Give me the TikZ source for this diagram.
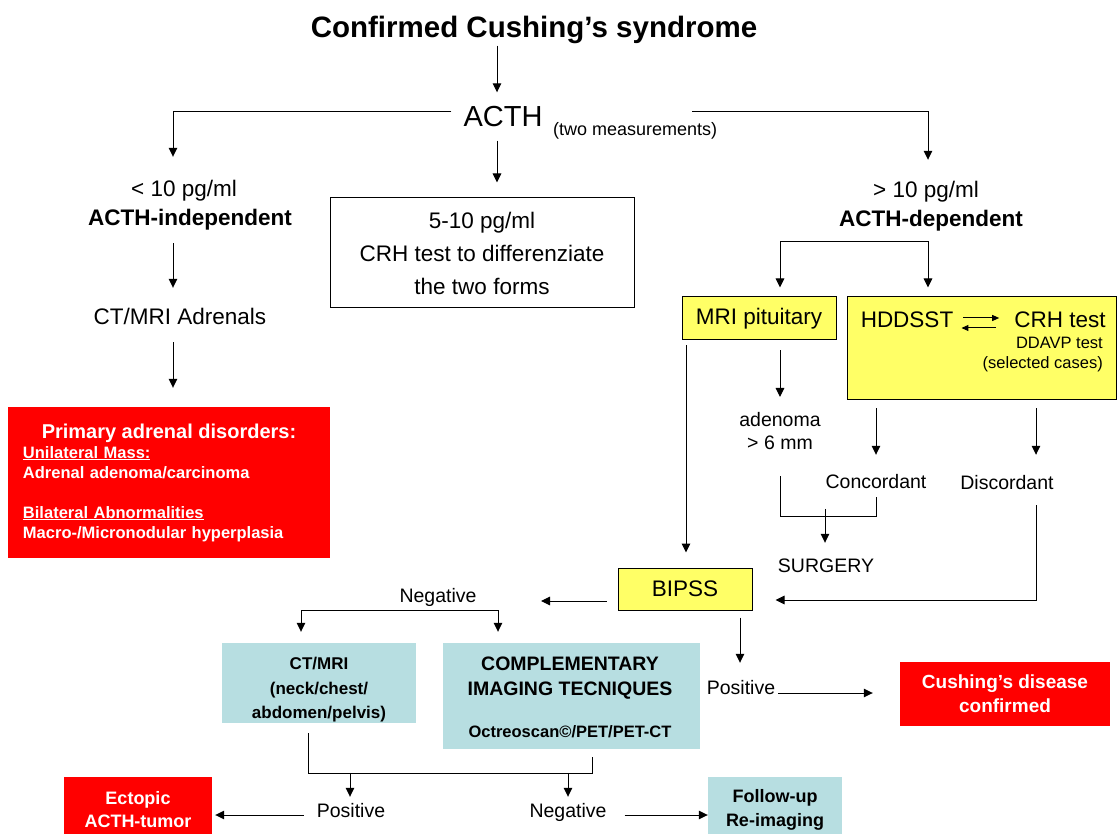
\documentclass[tikz,border=0pt]{standalone}
\usepackage{fontspec}
\setmainfont{Liberation Sans}
\usepackage{tikz}
\usetikzlibrary{arrows.meta}

\definecolor{alertred}{RGB}{255,0,0}
\definecolor{testyellow}{RGB}{255,255,102}
\definecolor{imgblue}{RGB}{183,222,225}

\tikzset{
  arr/.style={line width=1pt,-{Triangle[length=9pt,width=8.5pt]}},
  smallarr/.style={line width=1pt,-{Triangle[length=7pt,width=6pt]}},
  ln/.style={line width=1pt},
  tbig/.style={inner sep=0pt,font=\fontsize{22.5}{33}\selectfont,text height=16pt,text depth=0pt},
  tmid/.style={inner sep=0pt,font=\fontsize{19.5}{23}\selectfont,text height=14pt,text depth=0pt},
  tsmall/.style={inner sep=0pt,font=\fontsize{16.5}{20}\selectfont,text height=12pt,text depth=0pt},
  yellowbox/.style={draw,line width=1pt,fill=testyellow,inner sep=0pt},
  redbox/.style={fill=alertred,text=white,inner sep=0pt,align=center,
    font=\bfseries\fontsize{19}{24}\selectfont},
  bluebox/.style={fill=imgblue,inner sep=0pt,align=center,
    font=\bfseries\fontsize{17}{23}\selectfont},
}

\begin{document}
\begin{tikzpicture}[x=1pt,y=-1pt]
  \fill[white] (0,0) rectangle (1120,834);
  \useasboundingbox (0,0) rectangle (1120,834);

  % top
  \node[inner sep=0pt,font=\bfseries\fontsize{29.5}{34}\selectfont,text height=21pt,text depth=0pt] (title) at (534,27) {Confirmed Cushing’s syndrome};
  \node[inner sep=0pt,font=\fontsize{29}{34}\selectfont,text height=21pt,text depth=0pt] (acth) at (503,116) {ACTH};
  \node[inner sep=0pt,font=\fontsize{18}{22}\selectfont,text height=13pt,text depth=0pt,anchor=west] (meas) at (553,129) {(two measurements)};
  \draw[arr] ([shift={(-37,8)}]title.south) -- ([shift={(-6,-13)}]acth.north);

  % three ACTH levels
  \node[tbig] (lowval) at (184,189) {< 10 pg/ml};
  \node[tbig,font=\bfseries\fontsize{22.5}{33}\selectfont] (lowind) at (190,218) {ACTH-independent};
  \node[draw,line width=1pt,inner sep=0pt,align=center,minimum width=304pt,minimum height=110pt,
    font=\fontsize{22.5}{33}\selectfont] (crhbox) at (482,253) {5-10 pg/ml\\CRH test to differenziate\\the two forms};
  \node[tbig] (depval) at (926,190) {> 10 pg/ml};
  \node[tbig,font=\bfseries\fontsize{22.5}{33}\selectfont] (depind) at (931,219) {ACTH-dependent};
  \draw[arr] ([shift={(-12,-4)}]acth.west) -| ([shift={(-11,-24)}]lowval.north);
  \draw[arr] ([shift={(-25,-10.5)}]meas.north east) -| ([shift={(2,-22)}]depval.north);
  \draw[arr] ([shift={(-6,14)}]acth.south) -- ([shift={(15,-15)}]crhbox.north);

  % ACTH-independent side
  \node[tbig] (adr) at (180,317) {CT/MRI Adrenals};
  \node[redbox,align=left,minimum width=322pt,minimum height=151pt,text width=292pt,
    font=\bfseries\fontsize{16.5}{20}\selectfont] (prim) at (169,482.5)
    {\hfill{\fontsize{20}{24}\selectfont Primary adrenal disorders:}\hfill\null\\
     \underline{Unilateral Mass:}\\
     Adrenal adenoma/carcinoma\\[20pt]
     \underline{Bilateral Abnormalities}\\
     Macro-/Micronodular hyperplasia};
  \draw[arr] ([shift={(-17,17)}]lowind.south) -- ([shift={(-7,-21)}]adr.north);
  \draw[arr] ([shift={(-7,17)}]adr.south) -- ([shift={(4,-19)}]prim.north);

  % ACTH-dependent side
  \node[yellowbox,minimum width=154pt,minimum height=43pt,font=\fontsize{22.5}{33}\selectfont] (mripit) at (759,318.5) {MRI pituitary};
  \node[yellowbox,minimum width=269pt,minimum height=103pt] (hddbox) at (981.5,348.5) {};
  \node[tbig] (hdd) at (907,320) {HDDSST};
  \node[tbig] (crht) at (1060,320) {CRH test};
  \node[tsmall,anchor=east] (ddavp) at (1103,343) {DDAVP test};
  \node[tsmall,anchor=east] (sel) at (1103,363) {(selected cases)};
  \draw[smallarr] ([shift={(10,-2)}]hdd.east) -- ([shift={(-15,-2)}]crht.west);
  \draw[smallarr] ([shift={(-18,8)}]crht.west) -- ([shift={(8,8)}]hdd.east);
  \draw[arr] ([shift={(-53.5,-55)}]hddbox.north) -- ([shift={(-53.5,-9)}]hddbox.north);
  \draw[arr] ([shift={(-53.5,-55)}]hddbox.north) -| ([shift={(21,-9)}]mripit.north);

  \node[inner sep=0pt,align=center,font=\fontsize{19.5}{23}\selectfont] (aden) at (780,431) {adenoma\\> 6 mm};
  \node[tmid] (conc) at (876,481) {Concordant};
  \node[tmid] (disc) at (1007,482) {Discordant};
  \node[tmid] (surg) at (826,565) {SURGERY};
  \draw[arr] ([shift={(21,10)}]mripit.south) -- ([shift={(0,-34)}]aden.center);
  \draw[arr] ([shift={(-105.5,8)}]hddbox.south) -- ([shift={(0,-19)}]conc.north);
  \draw[arr] ([shift={(54.5,8)}]hddbox.south) -- ([shift={(29,-20)}]disc.north);
  \draw[ln] ([shift={(0,45)}]aden.center) |- ([shift={(0,28)}]conc.south) -- ([shift={(0,9)}]conc.south);
  \draw[arr] ([shift={(-1,-49)}]surg.north) -- ([shift={(-1,-15)}]surg.north);

  % BIPSS
  \node[yellowbox,minimum width=134pt,minimum height=42pt,font=\fontsize{22.5}{33}\selectfont] (bipss) at (685,589) {BIPSS};
  \draw[arr] ([shift={(-73,5)}]mripit.south) -- ([shift={(1,-15)}]bipss.north);
  \draw[arr] ([shift={(29,16)}]disc.south) |- ([shift={(23,11)}]bipss.east);

  \node[tmid] (neg) at (438,595) {Negative};
  \node[tmid] (pos) at (741,687) {Positive};
  \node[redbox,minimum width=210pt,minimum height=64pt] (cushd) at (1005,694) {Cushing’s disease\\confirmed};
  \draw[arr] ([shift={(-11,12)}]bipss.west) -- ([shift={(103,6)}]neg.center);
  \draw[arr] ([shift={(55,7)}]bipss.south) -- ([shift={(-1,-17)}]pos.north);
  \draw[arr] ([shift={(3,6)}]pos.east) -- ([shift={(-27,-1)}]cushd.west);

  % imaging
  \node[fill=imgblue,minimum width=194pt,minimum height=80pt] (ctbox) at (319,683) {};
  \node[bluebox,font=\bfseries\fontsize{17}{24.5}\selectfont] (cttext) at (319,690) {CT/MRI\\(neck/chest/\\abdomen/pelvis)};
  \node[fill=imgblue,minimum width=257pt,minimum height=106pt] (compbox) at (571.5,696) {};
  \node[bluebox,font=\bfseries\fontsize{19.5}{25}\selectfont] (comptext) at (570,697)
    {COMPLEMENTARY\\IMAGING TECNIQUES\\[17pt]{\fontsize{16.5}{20}\selectfont Octreoscan©/PET/PET-CT}};
  \draw[arr] ([shift={(0,15)}]neg.center) -| ([shift={(-18,-11)}]ctbox.north);
  \draw[arr] ([shift={(0,15)}]neg.center) -| ([shift={(-73.5,-11)}]compbox.north);

  % outcome
  \node[tmid] (pos2) at (351,810) {Positive};
  \node[tmid] (neg2) at (568,810) {Negative};
  \node[redbox,minimum width=148pt,minimum height=66pt,font=\bfseries\fontsize{18}{23}\selectfont] (ectop) at (138,810) {Ectopic\\ACTH-tumor};
  \node[bluebox,minimum width=134pt,minimum height=66pt,font=\bfseries\fontsize{18}{24}\selectfont] (follow) at (775,810) {Follow-up\\Re-imaging};
  \draw[ln] ([shift={(-11,10)}]ctbox.south) |- ([shift={(20.5,24)}]compbox.south) -- ([shift={(20.5,8)}]compbox.south);
  \draw[arr] ([shift={(-1,-30)}]pos2.north) -- ([shift={(-1,-6)}]pos2.north);
  \draw[arr] ([shift={(0,-30)}]neg2.north) -- ([shift={(0,-6)}]neg2.north);
  \draw[arr] ([shift={(-13,5)}]pos2.west) -- ([shift={(3,5)}]ectop.east);
  \draw[arr] ([shift={(18,5)}]neg2.east) -- ([shift={(0,5)}]follow.west);
\end{tikzpicture}
\end{document}
